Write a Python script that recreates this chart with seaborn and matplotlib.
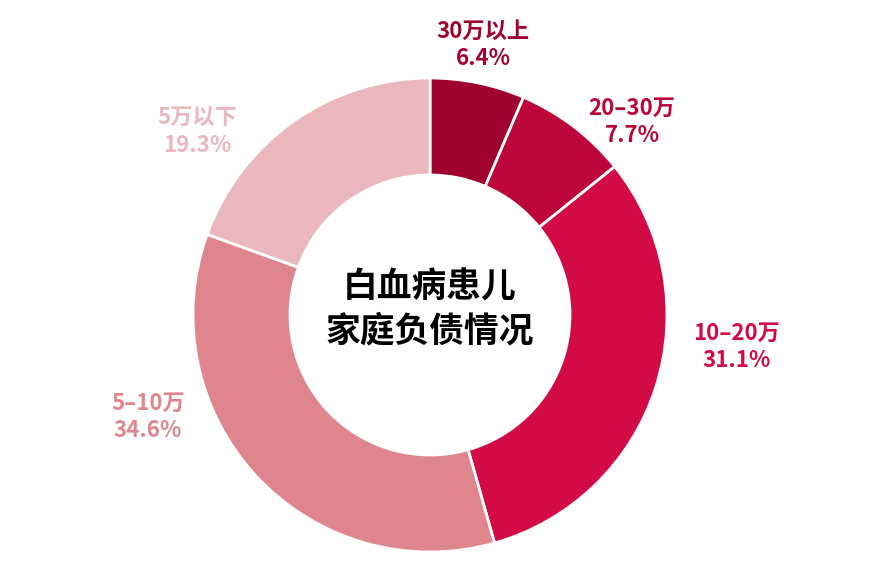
import matplotlib
matplotlib.use("Agg")
import matplotlib.pyplot as plt
import seaborn as sns

sns.set_style("white")
plt.rcParams['font.family'] = ['Noto Sans CJK SC', 'DejaVu Sans']

# Data (clockwise from 12 o'clock)
categories = ["30万以上", "20–30万", "10–20万", "5–10万", "5万以下"]
shares = [6.4, 7.7, 31.1, 34.6, 19.3]
colors = ["#A0022F", "#BC0538", "#D20A45", "#DF858E", "#EAB7BD"]
label_pos = [(483, 45), (632, 122), (737, 347), (148, 417), (197, 132)]

fig = plt.figure(figsize=(8.78, 5.73), dpi=100)
ax = fig.add_axes([0, 0, 1, 1])
ax.set_xlim(0, 878)
ax.set_ylim(0, 573)
ax.set_aspect("equal")
ax.axis("off")

cx, cy, r = 430, 573 - 315, 237
ax.pie(shares, colors=colors, startangle=90, counterclock=False,
       center=(cx, cy), radius=r, frame=True,
       wedgeprops=dict(width=97, edgecolor="white", linewidth=2))
ax.set_xlim(0, 878)
ax.set_ylim(0, 573)
ax.axis("off")

for cat, val, col, (x, y) in zip(categories, shares, colors, label_pos):
    ax.text(x, 573 - y, f"{cat}\n{val}%", color=col, ha="center", va="center",
            fontsize=16, fontweight="bold", linespacing=1.25)

ax.text(cx, cy + 6, "白血病患儿\n家庭负债情况", ha="center", va="center",
        fontsize=25, fontweight="bold", color="black", linespacing=1.3)

fig.savefig("out.png", dpi=100)
